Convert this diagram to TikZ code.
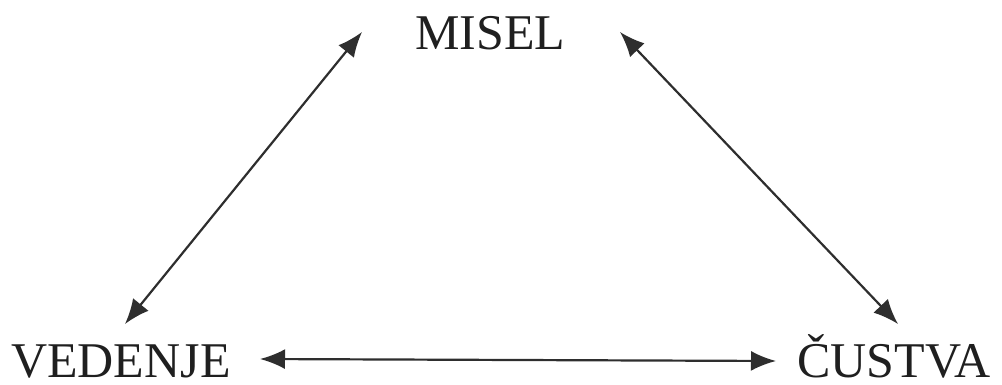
\documentclass[tikz,border=0pt]{standalone}
\usepackage{fontspec}
\setmainfont{Liberation Serif}
\usetikzlibrary{arrows.meta}
\begin{document}
\begin{tikzpicture}[x=1pt,y=-1pt,
  lbl/.style={inner sep=0pt,anchor=base west,text=black!88,font=\fontsize{50}{60}\selectfont},
  link/.style={draw=black!82,line width=2.2pt,{Latex[length=25pt,width=20pt]}-{Latex[length=25pt,width=20pt]}}]
\useasboundingbox (0,0) rectangle (1002,385);
\node[lbl] (misel) at (415,50) {MISEL};
\node[lbl] (vedenje) at (11,377) {VEDENJE};
\node[lbl] (custva) at (797,377) {ČUSTVA};
\coordinate (mL) at (362,32);
\coordinate (mR) at (620,32);
\coordinate (vT) at (125,324);
\coordinate (vR) at (260,359);
\coordinate (cT) at (898,324);
\coordinate (cL) at (776,361);
\draw[link] (vT) -- (mL);
\draw[link] (mR) -- (cT);
\draw[link] (vR) -- (cL);
\end{tikzpicture}
\end{document}
